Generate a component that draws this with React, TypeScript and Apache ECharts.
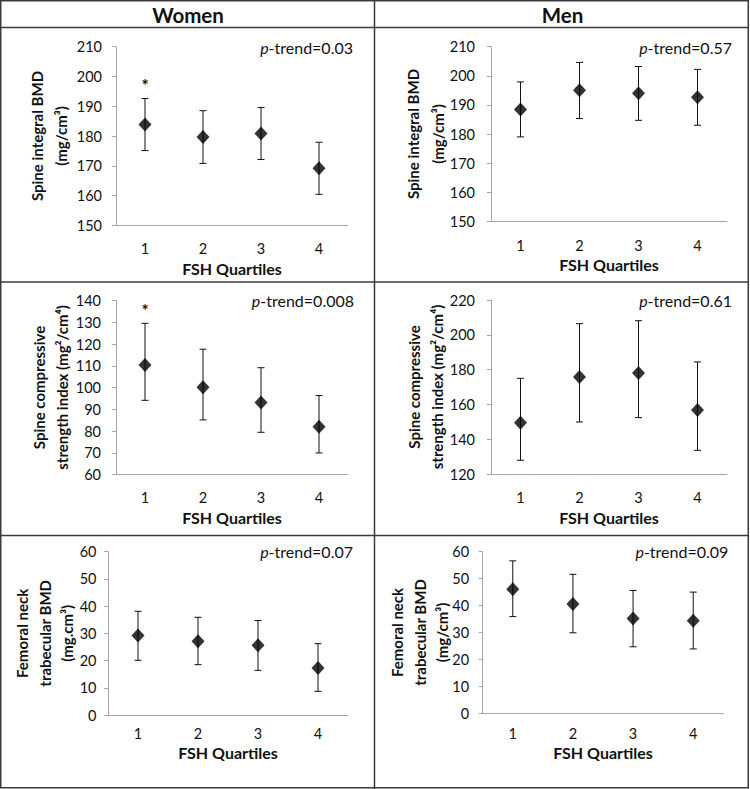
import React, { useEffect, useRef } from "react";
import * as echarts from "echarts";

const FONT = "Lato, 'Noto Sans', 'DejaVu Sans', sans-serif";

const quartiles = ["1", "2", "3", "4"];

// Women – spine integral BMD
const womenSpineMean = [183.9, 179.7, 180.8, 169.2];
const womenSpineHi = [192.6, 188.5, 189.6, 177.9];
const womenSpineLo = [175.1, 170.8, 172.1, 160.4];
const womenSpineSig = [1, 0, 0, 0];
// Men – spine integral BMD
const menSpineMean = [188.4, 195.0, 194.0, 192.6];
const menSpineHi = [197.9, 204.6, 203.2, 202.2];
const menSpineLo = [179.0, 185.3, 184.7, 183.0];
const menSpineSig = [0, 0, 0, 0];
// Women – spine compressive strength index
const womenCsiMean = [110.4, 100.1, 93.1, 81.9];
const womenCsiHi = [129.5, 117.6, 109.1, 96.3];
const womenCsiLo = [94.1, 85.1, 79.4, 69.9];
const womenCsiSig = [1, 0, 0, 0];
// Men – spine compressive strength index
const menCsiMean = [149.5, 175.7, 178.0, 156.8];
const menCsiHi = [175.0, 206.4, 208.1, 184.4];
const menCsiLo = [127.9, 149.9, 152.4, 133.6];
const menCsiSig = [0, 0, 0, 0];
// Women – femoral neck trabecular BMD
const womenFnMean = [29.2, 27.1, 25.6, 17.3];
const womenFnHi = [38.1, 35.9, 34.7, 26.2];
const womenFnLo = [20.1, 18.5, 16.4, 8.7];
const womenFnSig = [0, 0, 0, 0];
// Men – femoral neck trabecular BMD
const menFnMean = [46.1, 40.6, 35.2, 34.4];
const menFnHi = [56.6, 51.6, 45.6, 45.0];
const menFnLo = [35.9, 29.9, 24.7, 23.9];
const menFnSig = [0, 0, 0, 0];

const pTrends = ["0.03", "0.57", "0.008", "0.61", "0.07", "0.09"];
const headers = ["Women", "Men"];
const xAxisName = "FSH Quartiles";

const panels = [
  {
    grid: { left: 116, top: 46.7, width: 232, height: 178.6 },
    min: 150, max: 210, interval: 10,
    name: "Spine integral BMD\n(mg/cm³)", nameGap: 43, nameLH: 24,
    mean: womenSpineMean, hi: womenSpineHi, lo: womenSpineLo, sig: womenSpineSig,
    p: pTrends[0], pPos: [353, 47], xMargin: 15.7, xNameGap: 36, yMargin: 14,
  },
  {
    grid: { left: 491, top: 46.7, width: 236, height: 174.6 },
    min: 150, max: 210, interval: 10,
    name: "Spine integral BMD\n(mg/cm³)", nameGap: 40.5, nameLH: 25,
    mean: menSpineMean, hi: menSpineHi, lo: menSpineLo, sig: menSpineSig,
    p: pTrends[1], pPos: [732, 47], xMargin: 16.7, xNameGap: 36.2, yMargin: 16,
  },
  {
    grid: { left: 116, top: 300.5, width: 232, height: 174 },
    min: 60, max: 140, interval: 10,
    name: "Spine compressive\nstrength index (mg²/cm⁴)", nameGap: 43, nameLH: 23,
    mean: womenCsiMean, hi: womenCsiHi, lo: womenCsiLo, sig: womenCsiSig,
    p: pTrends[2], pPos: [354, 300], xMargin: 16, xNameGap: 35.5, yMargin: 15,
  },
  {
    grid: { left: 491, top: 300, width: 236, height: 174 },
    min: 120, max: 220, interval: 20,
    name: "Spine compressive\nstrength index (mg²/cm⁴)", nameGap: 43, nameLH: 23,
    mean: menCsiMean, hi: menCsiHi, lo: menCsiLo, sig: menCsiSig,
    p: pTrends[3], pPos: [732, 300], xMargin: 16.5, xNameGap: 36, yMargin: 16,
  },
  {
    grid: { left: 108, top: 551.7, width: 240, height: 163.3 },
    min: 0, max: 60, interval: 10,
    name: "Femoral neck\ntrabecular BMD\n(mg.cm³)", nameGap: 29.5, nameLH: 22.5,
    mean: womenFnMean, hi: womenFnHi, lo: womenFnLo, sig: womenFnSig,
    p: pTrends[4], pPos: [353, 551.7], xMargin: 11.5, xNameGap: 30.5, yMargin: 11.5,
  },
  {
    grid: { left: 482.7, top: 551.7, width: 240.6, height: 161.6 },
    min: 0, max: 60, interval: 10,
    name: "Femoral neck\ntrabecular BMD\n(mg/cm³)", nameGap: 29, nameLH: 22.5,
    mean: menFnMean, hi: menFnHi, lo: menFnLo, sig: menFnSig,
    p: pTrends[5], pPos: [728.3, 551.7], xMargin: 13.2, xNameGap: 32.4, yMargin: 13.5,
  },
];

const AXIS_COLOR = "#a6a6a6";
const INK = "#111111";

export default function App() {
  const ref = useRef<HTMLDivElement>(null);

  useEffect(() => {
    if (!ref.current) return;
    const chart = echarts.init(ref.current, null, { renderer: "svg" });

    const grids: any[] = [];
    const xAxes: any[] = [];
    const yAxes: any[] = [];
    const series: any[] = [];
    const graphics: any[] = [];

    panels.forEach((p, i) => {
      grids.push({ ...p.grid, containLabel: false, outerBoundsMode: "none" });
      xAxes.push({
        type: "category",
        gridIndex: i,
        data: quartiles,
        boundaryGap: true,
        axisLine: { lineStyle: { color: AXIS_COLOR, width: 1 } },
        axisTick: { show: false },
        axisLabel: { color: INK, fontFamily: FONT, fontSize: 14.5, lineHeight: 14, margin: p.xMargin },
        splitLine: { show: false },
        name: xAxisName,
        nameLocation: "middle",
        nameGap: p.xNameGap,
        nameMoveOverlap: false,
        nameTextStyle: { color: INK, fontFamily: FONT, fontSize: 16, fontWeight: "bold", lineHeight: 14 },
      });
      yAxes.push({
        type: "value",
        gridIndex: i,
        min: p.min,
        max: p.max,
        interval: p.interval,
        axisLine: { show: true, lineStyle: { color: AXIS_COLOR, width: 1 } },
        axisTick: { show: true, length: 4, lineStyle: { color: AXIS_COLOR } },
        axisLabel: { color: INK, fontFamily: FONT, fontSize: 14.5, margin: p.yMargin },
        splitLine: { show: false },
        name: p.name,
        nameLocation: "middle",
        nameGap: p.nameGap,
        nameMoveOverlap: false,
        nameTextStyle: { color: INK, fontFamily: FONT, fontSize: 15, fontWeight: "bold", lineHeight: p.nameLH },
      });
      series.push({
        type: "custom",
        xAxisIndex: i,
        yAxisIndex: i,
        z: 2,
        encode: { x: 0, y: [1, 2] },
        data: quartiles.map((_, k) => [k, p.lo[k], p.hi[k], p.sig[k]]),
        renderItem: (params: any, api: any) => {
          const x = api.value(0);
          const lo = api.coord([x, api.value(1)]);
          const hi = api.coord([x, api.value(2)]);
          const cap = 3.5;
          const ls = { stroke: INK, lineWidth: 1 };
          const children: any[] = [
            { type: "line", shape: { x1: hi[0], y1: hi[1], x2: lo[0], y2: lo[1] }, style: ls },
            { type: "line", shape: { x1: hi[0] - cap, y1: hi[1], x2: hi[0] + cap, y2: hi[1] }, style: ls },
            { type: "line", shape: { x1: lo[0] - cap, y1: lo[1], x2: lo[0] + cap, y2: lo[1] }, style: ls },
          ];
          if (api.value(3) === 1) {
            children.push({
              type: "text",
              style: {
                text: "*",
                x: hi[0],
                y: hi[1] - 12.5,
                align: "center",
                verticalAlign: "middle",
                fontFamily: FONT,
                fontSize: 17,
                fontWeight: "bold",
                fill: INK,
              },
            });
          }
          return { type: "group", children };
        },
      });
      series.push({
        type: "scatter",
        xAxisIndex: i,
        yAxisIndex: i,
        z: 3,
        symbol: "diamond",
        symbolSize: [13, 14],
        itemStyle: { color: "#000" },
        data: p.mean,
      });
      graphics.push({
        type: "text",
        x: p.pPos[0],
        y: p.pPos[1],
        style: {
          text: "{i|p}-trend=" + p.p,
          align: "right",
          verticalAlign: "middle",
          fontFamily: FONT,
          fontSize: 16,
          fill: INK,
          rich: { i: { fontStyle: "italic", fontFamily: FONT, fontSize: 16, fill: INK } },
        },
      });
    });

    // table frame
    const frame = { stroke: "#3a3a3a", lineWidth: 1.5 };
    graphics.push(
      { type: "rect", shape: { x: 0.75, y: 0.75, width: 747.5, height: 787 }, style: { fill: "none", ...frame } },
      { type: "line", shape: { x1: 0, y1: 27.5, x2: 749, y2: 27.5 }, style: frame },
      { type: "line", shape: { x1: 374.5, y1: 0, x2: 374.5, y2: 789 }, style: frame },
      { type: "line", shape: { x1: 0, y1: 282, x2: 749, y2: 282 }, style: frame },
      { type: "line", shape: { x1: 0, y1: 535.5, x2: 749, y2: 535.5 }, style: frame },
      {
        type: "text", x: 188, y: 15,
        style: { text: headers[0], align: "center", verticalAlign: "middle", fontFamily: FONT, fontSize: 20.5, fontWeight: "bold", fill: INK },
      },
      {
        type: "text", x: 562.5, y: 15,
        style: { text: headers[1], align: "center", verticalAlign: "middle", fontFamily: FONT, fontSize: 20.5, fontWeight: "bold", fill: INK },
      }
    );

    chart.setOption({
      animation: false,
      backgroundColor: "#ffffff",
      textStyle: { fontFamily: FONT },
      grid: grids,
      xAxis: xAxes,
      yAxis: yAxes,
      series,
      graphic: graphics,
    });

    return () => chart.dispose();
  }, []);

  return (
    <div
      ref={ref}
      style={{ position: "absolute", left: 0, top: 0, width: 750, height: 789, background: "#fff" }}
    />
  );
}
